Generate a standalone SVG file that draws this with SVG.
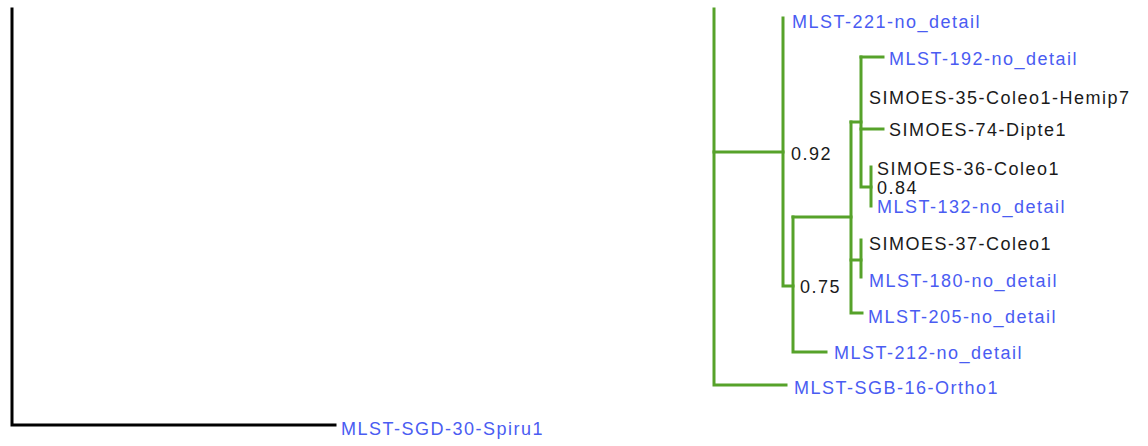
<svg xmlns="http://www.w3.org/2000/svg" width="1148" height="446" viewBox="0 0 1148 446">
<style>
.lbl{font-family:"Liberation Sans",Arial,sans-serif;font-size:18px;letter-spacing:1.5px}
.b{fill:#4a5cf2}
.k{fill:#1a1a1a}
.g{stroke:#56a22a;stroke-width:3;fill:none;stroke-linecap:square}
.blk{stroke:#000;stroke-width:3;fill:none;stroke-linecap:square}
</style>
<rect width="1148" height="446" fill="#fff"/>
<g id="connectors">
<path class="blk" d="M12 9 V425 H335"/>
<path class="g" d="M714 9 V385 H786"/>
<path class="g" d="M714 152 H783"/>
<path class="g" d="M783 18 V286 H793"/>
<path class="g" d="M793 217 V352 H826"/>
<path class="g" d="M793 217 H851"/>
<path class="g" d="M851 122 V313 H862"/>
<path class="g" d="M851 122 H861"/>
<path class="g" d="M851 260 H861"/>
<path class="g" d="M861 240 V277"/>
<path class="g" d="M861 57 V187 H871"/>
<path class="g" d="M861 57 H883"/>
<path class="g" d="M861 129 H883"/>
<path class="g" d="M871 167 V206"/>
</g>
<g id="n-mlst221"><text class="lbl b" x="792" y="28">MLST-221-no_detail</text></g>
<g id="n-mlst192"><text class="lbl b" x="889" y="65">MLST-192-no_detail</text></g>
<g id="n-simoes35"><text class="lbl k" x="869" y="104">SIMOES-35-Coleo1-Hemip7</text></g>
<g id="n-simoes74"><text class="lbl k" x="889" y="136">SIMOES-74-Dipte1</text></g>
<g id="n-simoes36"><text class="lbl k" x="877" y="175">SIMOES-36-Coleo1</text></g>
<g id="s-084"><text class="lbl k" x="877" y="194">0.84</text></g>
<g id="n-mlst132"><text class="lbl b" x="877" y="213">MLST-132-no_detail</text></g>
<g id="n-simoes37"><text class="lbl k" x="869" y="250">SIMOES-37-Coleo1</text></g>
<g id="n-mlst180"><text class="lbl b" x="869" y="287">MLST-180-no_detail</text></g>
<g id="s-075"><text class="lbl k" x="800" y="293">0.75</text></g>
<g id="n-mlst205"><text class="lbl b" x="868" y="323">MLST-205-no_detail</text></g>
<g id="n-mlst212"><text class="lbl b" x="834" y="359">MLST-212-no_detail</text></g>
<g id="n-sgb16"><text class="lbl b" x="794" y="394">MLST-SGB-16-Ortho1</text></g>
<g id="n-sgd30"><text class="lbl b" x="341" y="435">MLST-SGD-30-Spiru1</text></g>
<g id="s-092"><text class="lbl k" x="791" y="160">0.92</text></g>
</svg>
